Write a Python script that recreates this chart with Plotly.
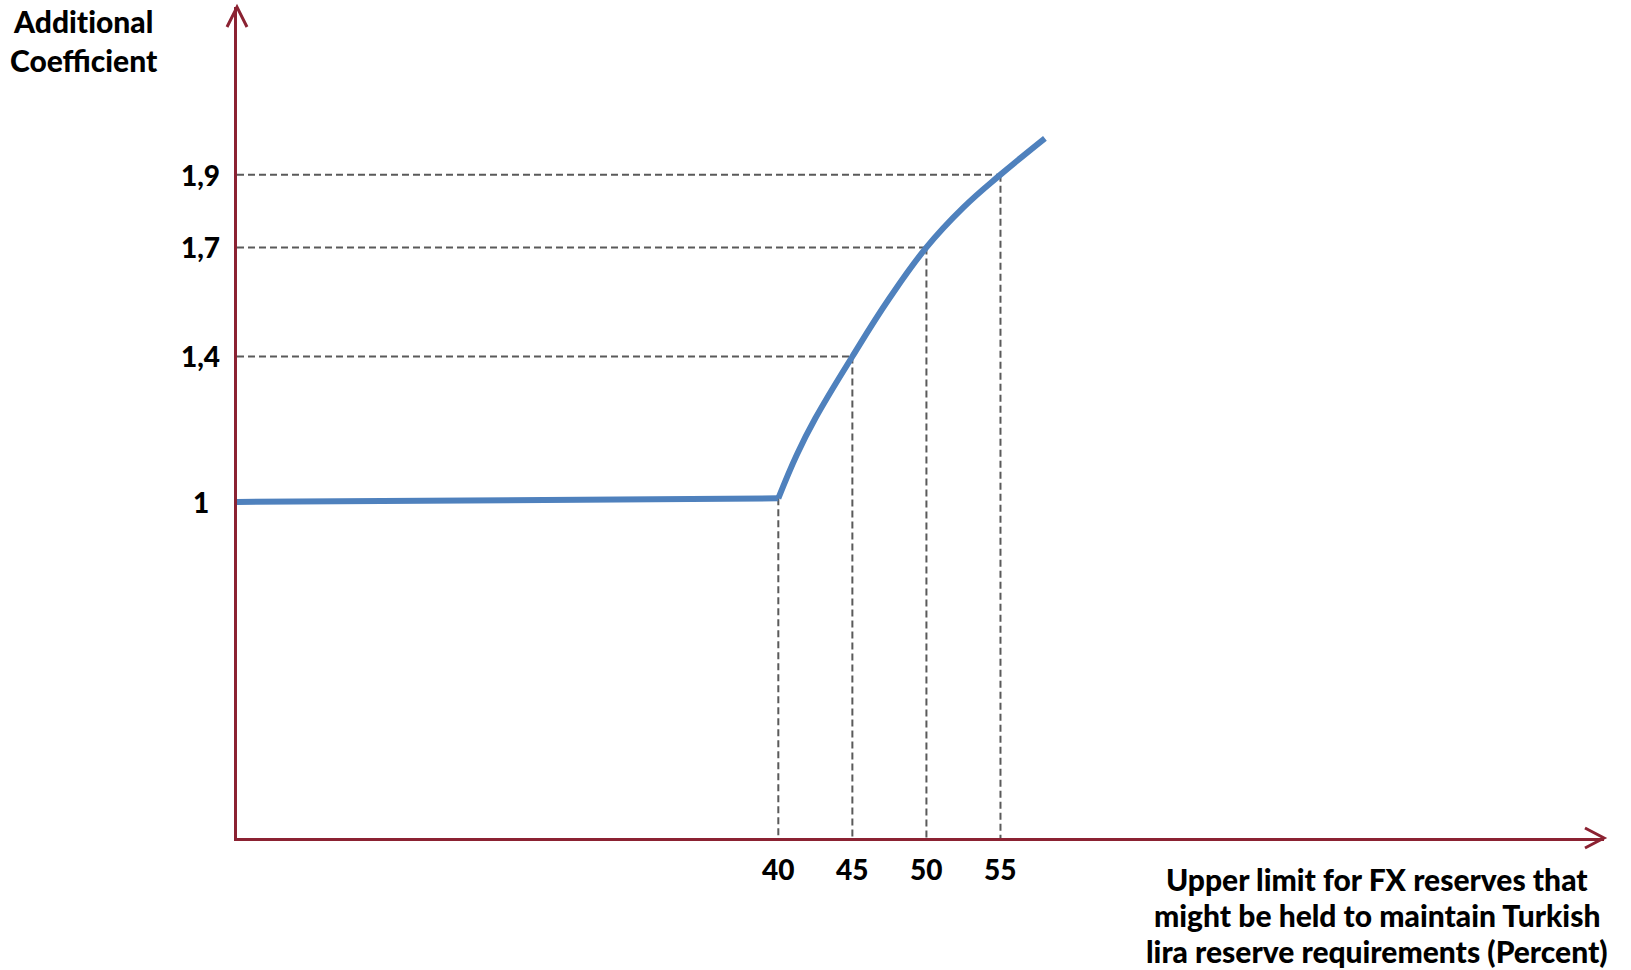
import plotly.graph_objects as go

# Reserve coefficient schedule
flat_x = [3.45, 40]
flat_y = [1.0, 1.01]
curve_x = [40, 41.25, 42.5, 45, 47.5, 50, 52.5, 55, 58]
curve_y = [1.01, 1.13, 1.23, 1.4, 1.56, 1.7, 1.81, 1.9, 2.0]

# Guide-line anchor points
guide_h_x = [45, 50, 55]
guide_h_y = [1.4, 1.7, 1.9]
guide_v_x = [40, 45, 50, 55]
guide_v_y = [1.01, 1.4, 1.7, 1.9]

y_tick_vals = [1.0, 1.4, 1.7, 1.9]
y_tick_text = ["1", "1,4", "1,7", "1,9"]
x_tick_vals = [40, 45, 50, 55]
x_tick_text = ["40", "45", "50", "55"]

x_title_lines = [
    "Upper limit for FX reserves that",
    "might be held to maintain Turkish",
    "lira reserve requirements (Percent)",
]

X_RANGE = [3.45, 95.75]
Y_RANGE = [0.076, 2.361]

W, H = 1631, 970
ML, MR, MT, MB = 237, 27, 7, 132
PW, PH = W - ML - MR, H - MT - MB

AXIS_RED = "#8B2232"
LINE_BLUE = "#4F81BD"
GUIDE_GRAY = "#5A5A5A"
FONT = "Lato"
ZWNJ = "\u200c"  # keeps "ti" from forming a ligature


def px_x(px):
    return (px - ML) / PW


def px_y(py):
    return (H - MB - py) / PH


fig = go.Figure()

dash_style = dict(color=GUIDE_GRAY, width=2, dash="7px,4px")
for gx, gy in zip(guide_h_x, guide_h_y):
    fig.add_trace(go.Scatter(x=[X_RANGE[0], gx], y=[gy, gy], mode="lines",
                             line=dash_style, hoverinfo="skip", showlegend=False))
for gx, gy in zip(guide_v_x, guide_v_y):
    fig.add_trace(go.Scatter(x=[gx, gx], y=[gy, Y_RANGE[0]], mode="lines",
                             line=dash_style, hoverinfo="skip", showlegend=False))

fig.add_trace(go.Scatter(x=flat_x, y=flat_y, mode="lines",
                         line=dict(color=LINE_BLUE, width=6), showlegend=False))
fig.add_trace(go.Scatter(x=curve_x, y=curve_y, mode="lines",
                         line=dict(color=LINE_BLUE, width=6, shape="spline", smoothing=1.2),
                         showlegend=False))

tick_font = dict(family=FONT, size=28, color="black", weight=900)
title_font = dict(family=FONT, size=30, color="black", weight=900)

annotations = []
for v, t in zip(y_tick_vals, y_tick_text):
    annotations.append(dict(x=0, xref="paper", y=v, yref="y", text=t, showarrow=False,
                            xanchor="center", yanchor="middle", xshift=-36.5,
                            font=tick_font))
for v, t in zip(x_tick_vals, x_tick_text):
    annotations.append(dict(x=v, xref="x", y=0, yref="paper", text=t, showarrow=False,
                            xanchor="center", yanchor="middle", yshift=-31,
                            font=tick_font))

annotations.append(dict(x=px_x(84), xref="paper", y=px_y(41), yref="paper",
                        text=f"Addit{ZWNJ}ional<br>Coefficient", showarrow=False,
                        xanchor="center", yanchor="middle", align="center",
                        font=title_font))
for line_text, cy in zip(x_title_lines, [879, 915, 951]):
    annotations.append(dict(x=px_x(1377), xref="paper", y=px_y(cy), yref="paper",
                            text=line_text, showarrow=False,
                            xanchor="center", yanchor="middle", align="center",
                            font=title_font))

# Axis arrowheads
shapes = [
    dict(type="path", xref="paper", yref="paper",
         path=f"M {px_x(227)} {px_y(27)} L {px_x(237)} {px_y(7)} L {px_x(247)} {px_y(27)}",
         line=dict(color=AXIS_RED, width=3)),
    dict(type="path", xref="paper", yref="paper",
         path=f"M {px_x(1585)} {px_y(828)} L {px_x(1604)} {px_y(838)} L {px_x(1585)} {px_y(848)}",
         line=dict(color=AXIS_RED, width=3)),
]

fig.update_layout(
    width=W, height=H,
    margin=dict(l=ML, r=MR, t=MT, b=MB),
    paper_bgcolor="white", plot_bgcolor="white",
    showlegend=False,
    xaxis=dict(range=X_RANGE, showgrid=False, zeroline=False, showticklabels=False,
               ticks="", showline=True, linecolor=AXIS_RED, linewidth=3),
    yaxis=dict(range=Y_RANGE, showgrid=False, zeroline=False, showticklabels=False,
               ticks="", showline=True, linecolor=AXIS_RED, linewidth=3),
    annotations=annotations,
    shapes=shapes,
)

fig.write_html("out.html")
